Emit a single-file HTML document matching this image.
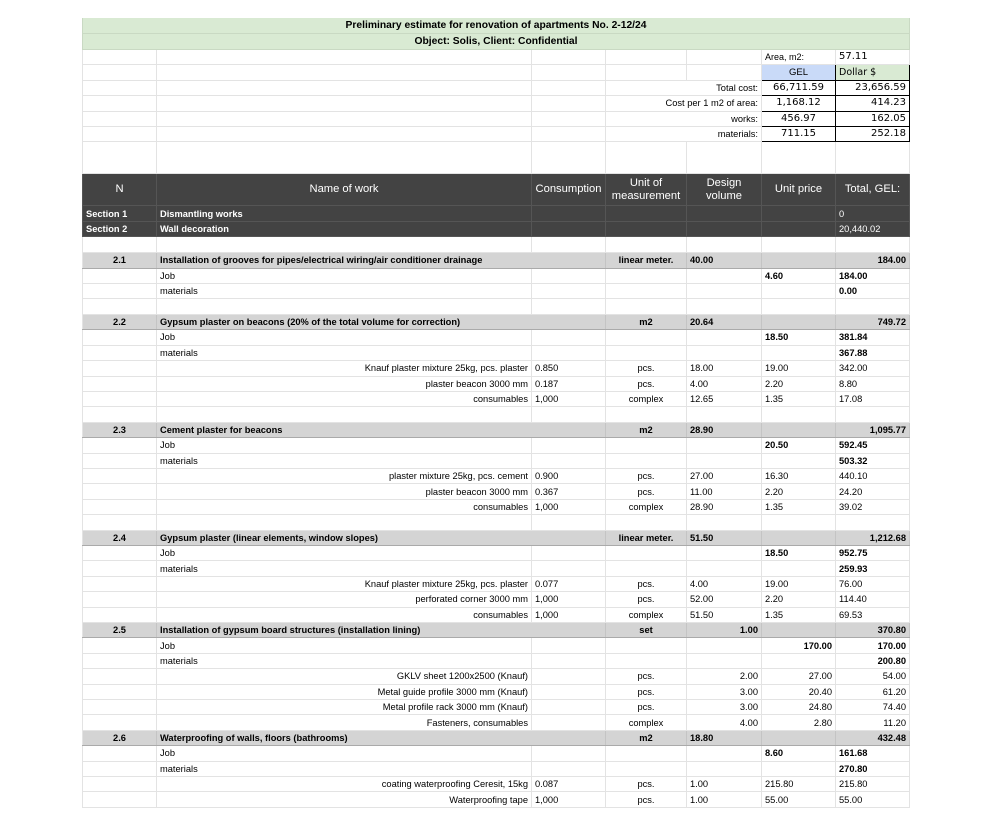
<!DOCTYPE html>
<html><head><meta charset="utf-8"><style>
html,body{margin:0;padding:0;background:#fff;width:988px;height:820px;overflow:hidden}
table{position:absolute;left:82px;top:18px;border-collapse:collapse;table-layout:fixed;font-family:"Liberation Sans",Arial,sans-serif;font-size:9.3px;color:#000}
td{border-right:1px solid #e3e3e3;border-bottom:1px solid #e3e3e3;padding:0 3px;white-space:nowrap;overflow:visible;height:14.42px;line-height:12px;vertical-align:middle}
td:first-child{border-left:1px solid #e3e3e3}
.t td{background:#d9ead3;font-weight:bold;text-align:center;font-size:10.3px;border-color:#c9d9c3}
.n{font-family:"DejaVu Sans",sans-serif;font-size:10px}
.b{font-weight:bold}.c{text-align:center}.r{text-align:right}
.hd td{background:#434343;color:#fff;text-align:center;font-size:11.2px;line-height:13px;border-color:#555}
.dk td{background:#434343;color:#fff;border-color:#555}
.g td{background:#d4d4d4;border-top:1px solid #aaa;border-bottom:1px solid #aaa;border-right-color:#c4c4c4}
.bx{border:1px solid #000 !important}
</style></head><body>
<table>
<colgroup><col style="width:74px"><col style="width:375px"><col style="width:74px"><col style="width:81px"><col style="width:75px"><col style="width:74px"><col style="width:74px"></colgroup>
<tr class="t"><td colspan="7" style="height:15px">Preliminary estimate for renovation of apartments No. 2-12/24</td></tr>
<tr class="t"><td colspan="7" style="height:15px">Object: Solis, Client: Confidential</td></tr>
<tr><td></td><td></td><td></td><td></td><td></td><td style="font-size:9px">Area, m2:</td><td class="n">57.11</td></tr>
<tr><td></td><td></td><td></td><td></td><td></td><td class="c bx" style="background:#c9daf8;font-size:9.5px">GEL</td><td class="bx n" style="background:#d9ead3;font-size:9.5px">Dollar $</td></tr>
<tr><td></td><td></td><td></td><td colspan="2" class="r">Total cost:</td><td class="c n bx">66,711.59</td><td class="r n bx">23,656.59</td></tr>
<tr><td></td><td></td><td></td><td colspan="2" class="r">Cost per 1 m2 of area:</td><td class="c n bx">1,168.12</td><td class="r n bx">414.23</td></tr>
<tr><td></td><td></td><td></td><td colspan="2" class="r">works:</td><td class="c n bx">456.97</td><td class="r n bx">162.05</td></tr>
<tr><td></td><td></td><td></td><td colspan="2" class="r">materials:</td><td class="c n bx">711.15</td><td class="r n bx">252.18</td></tr>
<tr><td style="height:31px"></td><td></td><td></td><td></td><td></td><td></td><td></td></tr>
<tr class="hd"><td style="height:31px">N</td><td>Name of work</td><td>Consumption</td><td>Unit of<br>measurement</td><td>Design<br>volume</td><td>Unit price</td><td>Total, GEL:</td></tr>
<tr class="dk b"><td>Section 1</td><td>Dismantling works</td><td></td><td></td><td></td><td></td><td style="font-weight:normal">0</td></tr>
<tr class="dk b"><td>Section 2</td><td>Wall decoration</td><td></td><td></td><td></td><td></td><td style="font-weight:normal">20,440.02</td></tr>
<tr><td style="height:15px"></td><td></td><td></td><td></td><td></td><td></td><td></td></tr>

<tr class="g b"><td class="c">2.1</td><td colspan="2">Installation of grooves for pipes/electrical wiring/air conditioner drainage</td><td class="c">linear meter.</td><td>40.00</td><td></td><td class="r">184.00</td></tr>
<tr><td></td><td>Job</td><td></td><td></td><td></td><td class="b">4.60</td><td class="b">184.00</td></tr>
<tr><td></td><td>materials</td><td></td><td></td><td></td><td></td><td class="b">0.00</td></tr>
<tr><td></td><td></td><td></td><td></td><td></td><td></td><td></td></tr>

<tr class="g b"><td class="c">2.2</td><td colspan="2">Gypsum plaster on beacons (20% of the total volume for correction)</td><td class="c">m2</td><td>20.64</td><td></td><td class="r">749.72</td></tr>
<tr><td></td><td>Job</td><td></td><td></td><td></td><td class="b">18.50</td><td class="b">381.84</td></tr>
<tr><td></td><td>materials</td><td></td><td></td><td></td><td></td><td class="b">367.88</td></tr>
<tr><td></td><td class="r">Knauf plaster mixture 25kg, pcs. plaster</td><td>0.850</td><td class="c">pcs.</td><td>18.00</td><td>19.00</td><td>342.00</td></tr>
<tr><td></td><td class="r">plaster beacon 3000 mm</td><td>0.187</td><td class="c">pcs.</td><td>4.00</td><td>2.20</td><td>8.80</td></tr>
<tr><td></td><td class="r">consumables</td><td>1,000</td><td class="c">complex</td><td>12.65</td><td>1.35</td><td>17.08</td></tr>
<tr><td></td><td></td><td></td><td></td><td></td><td></td><td></td></tr>

<tr class="g b"><td class="c">2.3</td><td colspan="2">Cement plaster for beacons</td><td class="c">m2</td><td>28.90</td><td></td><td class="r">1,095.77</td></tr>
<tr><td></td><td>Job</td><td></td><td></td><td></td><td class="b">20.50</td><td class="b">592.45</td></tr>
<tr><td></td><td>materials</td><td></td><td></td><td></td><td></td><td class="b">503.32</td></tr>
<tr><td></td><td class="r">plaster mixture 25kg, pcs. cement</td><td>0.900</td><td class="c">pcs.</td><td>27.00</td><td>16.30</td><td>440.10</td></tr>
<tr><td></td><td class="r">plaster beacon 3000 mm</td><td>0.367</td><td class="c">pcs.</td><td>11.00</td><td>2.20</td><td>24.20</td></tr>
<tr><td></td><td class="r">consumables</td><td>1,000</td><td class="c">complex</td><td>28.90</td><td>1.35</td><td>39.02</td></tr>
<tr><td></td><td></td><td></td><td></td><td></td><td></td><td></td></tr>

<tr class="g b"><td class="c">2.4</td><td colspan="2">Gypsum plaster (linear elements, window slopes)</td><td class="c">linear meter.</td><td>51.50</td><td></td><td class="r">1,212.68</td></tr>
<tr><td></td><td>Job</td><td></td><td></td><td></td><td class="b">18.50</td><td class="b">952.75</td></tr>
<tr><td></td><td>materials</td><td></td><td></td><td></td><td></td><td class="b">259.93</td></tr>
<tr><td></td><td class="r">Knauf plaster mixture 25kg, pcs. plaster</td><td>0.077</td><td class="c">pcs.</td><td>4.00</td><td>19.00</td><td>76.00</td></tr>
<tr><td></td><td class="r">perforated corner 3000 mm</td><td>1,000</td><td class="c">pcs.</td><td>52.00</td><td>2.20</td><td>114.40</td></tr>
<tr><td></td><td class="r">consumables</td><td>1,000</td><td class="c">complex</td><td>51.50</td><td>1.35</td><td>69.53</td></tr>

<tr class="g b"><td class="c">2.5</td><td colspan="2">Installation of gypsum board structures (installation lining)</td><td class="c">set</td><td class="r">1.00</td><td></td><td class="r">370.80</td></tr>
<tr><td></td><td>Job</td><td></td><td></td><td></td><td class="b r">170.00</td><td class="b r">170.00</td></tr>
<tr><td></td><td>materials</td><td></td><td></td><td></td><td></td><td class="b r">200.80</td></tr>
<tr><td></td><td class="r">GKLV sheet 1200x2500 (Knauf)</td><td></td><td class="c">pcs.</td><td class="r">2.00</td><td class="r">27.00</td><td class="r">54.00</td></tr>
<tr><td></td><td class="r">Metal guide profile 3000 mm (Knauf)</td><td></td><td class="c">pcs.</td><td class="r">3.00</td><td class="r">20.40</td><td class="r">61.20</td></tr>
<tr><td></td><td class="r">Metal profile rack 3000 mm (Knauf)</td><td></td><td class="c">pcs.</td><td class="r">3.00</td><td class="r">24.80</td><td class="r">74.40</td></tr>
<tr><td></td><td class="r">Fasteners, consumables</td><td></td><td class="c">complex</td><td class="r">4.00</td><td class="r">2.80</td><td class="r">11.20</td></tr>

<tr class="g b"><td class="c">2.6</td><td colspan="2">Waterproofing of walls, floors (bathrooms)</td><td class="c">m2</td><td>18.80</td><td></td><td class="r">432.48</td></tr>
<tr><td></td><td>Job</td><td></td><td></td><td></td><td class="b">8.60</td><td class="b">161.68</td></tr>
<tr><td></td><td>materials</td><td></td><td></td><td></td><td></td><td class="b">270.80</td></tr>
<tr><td></td><td class="r">coating waterproofing Ceresit, 15kg</td><td>0.087</td><td class="c">pcs.</td><td>1.00</td><td>215.80</td><td>215.80</td></tr>
<tr><td></td><td class="r">Waterproofing tape</td><td>1,000</td><td class="c">pcs.</td><td>1.00</td><td>55.00</td><td>55.00</td></tr>
</table>
</body></html>
